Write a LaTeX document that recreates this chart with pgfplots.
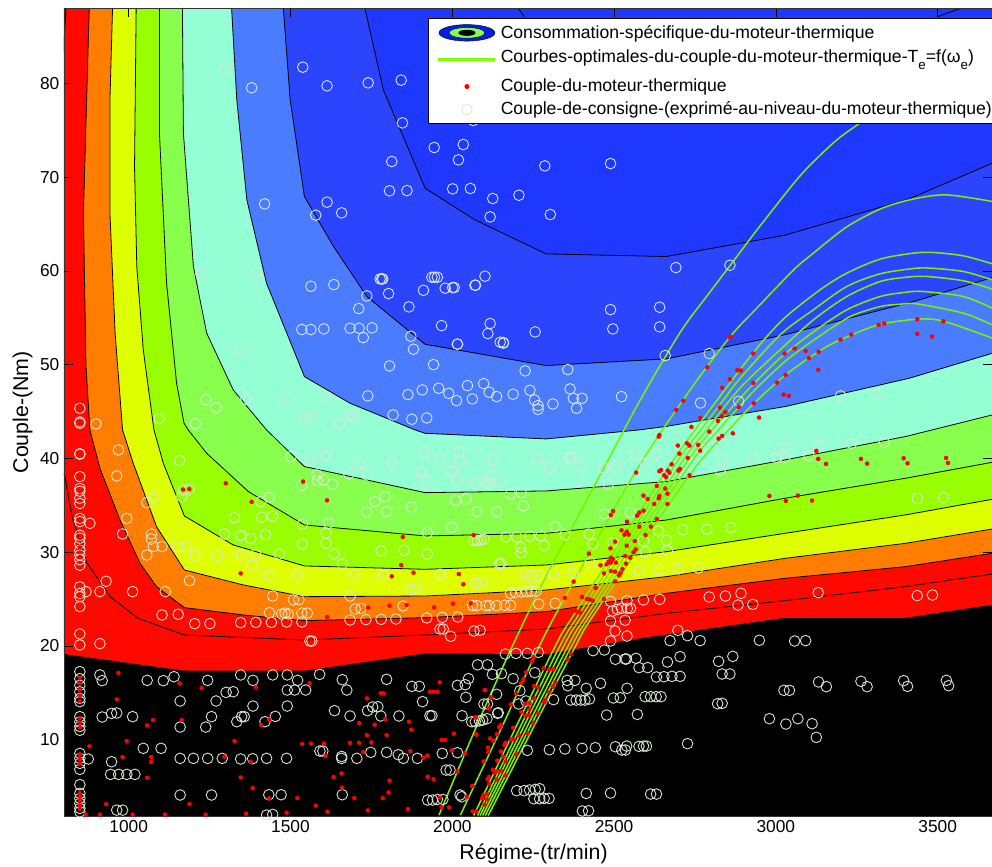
\documentclass[border=0pt]{standalone}
\usepackage{fontspec}
\setmainfont{Liberation Sans}
\usepackage{pgfplots}
\pgfplotsset{compat=1.18}
\definecolor{cred}{RGB}{255,8,0}
\definecolor{corange}{RGB}{255,125,0}
\definecolor{cyellow}{RGB}{221,255,0}
\definecolor{cgreen}{RGB}{153,255,0}
\definecolor{clgreen}{RGB}{136,255,77}
\definecolor{caqua}{RGB}{148,255,213}
\definecolor{cblue}{RGB}{74,124,255}
\definecolor{cbluetwo}{RGB}{43,69,255}
\definecolor{cbluethree}{RGB}{30,56,255}
\definecolor{cdeep}{RGB}{0,30,230}
\definecolor{clime}{RGB}{124,240,0}
\definecolor{ckey}{RGB}{128,255,0}
\definecolor{ccircle}{RGB}{218,232,214}
\begin{document}
\begin{tikzpicture}
\useasboundingbox (-48pt,-38.25pt) rectangle (696pt,612pt);
\begin{axis}[
  scale only axis, width=696pt, height=605.6pt,
  xmin=800, xmax=3668, ymin=1.85, ymax=88,
  xtick={1000,1500,2000,2500,3000,3500},
  ytick={10,20,30,40,50,60,70,80},
  /pgf/number format/assume math mode=true,
  /pgf/number format/1000 sep={},
  tick align=inside, major tick length=6.5pt,
  tick style={black, line width=0.5pt},
  axis line style={black!80, line width=0.5pt},
  axis on top,
  axis background/.style={fill=black},
  tick label style={font=\fontsize{13}{15}\selectfont},
  label style={font=\fontsize{16}{18}\selectfont},
  xlabel={Régime-(tr/min)},
  ylabel={Couple-(Nm)},
  xlabel style={at={(rel axis cs:0.506,0)},anchor=north,yshift=-17.5pt},
  ylabel style={at={(rel axis cs:0,0.5)},anchor=south,yshift=20pt},
  legend style={at={(axis cs:1925,87)},anchor=north west,draw=black,fill=white,
     font=\fontsize{13.2}{15}\selectfont,inner xsep=7.5pt,inner ysep=3.25pt,
     cells={anchor=west},row sep=2pt,line width=0.7pt,
     /tikz/column 1/.style={column sep=2pt}},
  legend cell align=left,
]
\addlegendimage{legend image code/.code={
  \fill[fill=cdeep,draw=black,line width=0.3pt] (21pt,0pt) ellipse (21pt and 6.2pt);
  \fill[fill=clgreen,draw=black,line width=0.3pt] (21pt,0pt) ellipse (13.4pt and 4pt);
  \fill[fill=black] (21pt,0pt) ellipse (6pt and 1.9pt);}}
\addlegendentry{Consommation-spécifique-du-moteur-thermique}
\addlegendimage{legend image code/.code={
  \fill[ckey] (0pt,-0.7pt) rectangle (42pt,0.7pt);}}
\addlegendentry{\raisebox{5pt}[15.6pt][0pt]{Courbes-optimales-du-couple-du-moteur-thermique-T\raisebox{-5pt}{\fontsize{10}{10}\selectfont e}=f(ω\raisebox{-5pt}{\fontsize{10}{10}\selectfont e})}}
\addlegendimage{legend image code/.code={
  \fill[red] (21pt,0pt) circle (1.5pt);}}
\addlegendentry{Couple-du-moteur-thermique}
\addlegendimage{legend image code/.code={
  \draw[draw=ccircle,line width=0.55pt] (21pt,0pt) circle (4pt);}}
\addlegendentry{Couple-de-consigne-(exprimé-au-niveau-du-moteur-thermique)}

% contour bands
\addplot[fill=cred,draw=none,forget plot] coordinates {(780,19.1)(800,19.13)(1172,17.36)(1543,17.36)(1916,19.2)(2290,19.13)(2577,20.8)(3028,23)(3400,23)(3669,24.4)(3720,25)(3720,100)(780,100)} --cycle;
\addplot[black,line width=0.6pt,forget plot] coordinates {(780,40)(803,38.06)(825,33.79)(871,28.83)(943,25.25)(1029,22.94)(1172,21.16)(1543,20.63)(1916,21.16)(2290,21.8)(2662,23.47)(3028,24.83)(3400,26.32)(3669,27.67)(3720,28)};
\addplot[black,line width=0.6pt,forget plot] coordinates {(806,88)(800,84.3)(795,82)};
\addplot[fill=corange,draw=black,line width=0.6pt,forget plot] coordinates {(878,100)(878,88.04)(860,66.16)(868,49.8)(880,43.04)(911,38.95)(973,33.44)(1035,28.81)(1086,26.32)(1172,24.08)(1354,23.3)(1543,22.69)(1916,23.01)(2290,23.65)(2662,25.61)(3028,27.21)(3400,28.45)(3669,29.88)(3720,30.2)(3720,100)} --cycle;
\addplot[fill=cyellow,draw=black,line width=0.6pt,forget plot] coordinates {(950,100)(950,88)(942,78.26)(942,66.16)(958,53.36)(981,43.04)(1014,39.48)(1086,32.72)(1172,28.1)(1354,26.5)(1543,25.25)(1916,25.32)(2290,25.96)(2662,27.39)(3028,29.34)(3400,30.94)(3669,32.47)(3720,32.8)(3720,100)} --cycle;
\addplot[fill=cgreen,draw=black,line width=0.6pt,forget plot] coordinates {(1023,100)(1023,88)(1018,71.14)(1025,60.47)(1045,51.58)(1078,43.04)(1107,39.48)(1172,33.86)(1323,30.77)(1543,28.53)(1916,28.17)(2290,28.63)(2662,30.05)(3028,32.01)(3400,33.97)(3669,35.64)(3720,36)(3720,100)} --cycle;
\addplot[fill=clgreen,draw=black,line width=0.6pt,forget plot] coordinates {(1095,100)(1095,88)(1095,74.7)(1117,58.69)(1148,48)(1171,43.75)(1184,43.04)(1241,40.55)(1370,36.46)(1543,32.9)(1916,31.73)(2290,32.01)(2662,33.43)(3028,35.75)(3400,37.88)(3669,39.59)(3720,40)(3720,100)} --cycle;
\addplot[fill=caqua,draw=black,line width=0.6pt,forget plot] coordinates {(1166,100)(1166,88)(1169,74.7)(1200,60.47)(1241,53.36)(1323,47.31)(1426,43.04)(1543,39.13)(1736,37.7)(1916,36.35)(2290,36.53)(2662,37.53)(3028,39.84)(3400,42.33)(3669,44.64)(3720,45)(3720,100)} --cycle;
\addplot[fill=cblue,draw=black,line width=0.6pt,forget plot] coordinates {(1318,100)(1318,88)(1334,78.26)(1365,67.6)(1426,58.69)(1543,48.73)(1684,45.89)(1885,43.04)(1916,42.68)(2290,42.08)(2577,43.04)(2656,43.39)(3028,45.53)(3412,48.55)(3669,51.22)(3720,51.8)(3720,100)} --cycle;
\addplot[fill=cbluetwo,draw=black,line width=0.6pt,forget plot] coordinates {(1478,100)(1478,88)(1499,78.26)(1543,67.94)(1633,62.61)(1736,57.27)(1916,52.18)(2290,49.91)(2662,50.62)(3028,53.2)(3426,56.74)(3669,59.3)(3720,59.8)(3720,100)} --cycle;
\addplot[fill=cbluethree,draw=black,line width=0.6pt,forget plot] coordinates {(1730,100)(1730,88)(1787,79.32)(1916,68.83)(2070,65.45)(2290,61.82)(2662,61.54)(3028,63.81)(3412,67.69)(3669,71.5)(3720,72.3)(3720,100)} --cycle;
\addplot[black,line width=0.6pt,forget plot] coordinates {(2205,88)(2222,87.15)};
\addplot[black,line width=0.6pt,forget plot] coordinates {(3502,87.15)(3570,88)};

% set-point circles
\addplot[only marks,mark=o,mark size=4pt,mark options={draw=ccircle,line width=0.65pt},forget plot] coordinates {
(1300,81.57)(1380,79.54)(1538,81.74)(1613,79.75)(1740,80.07)(1842,80.36)(1846,75.8)(2065,76.05)(1813,71.68)(1944,73.17)(2034,73.49)(2019,71.85)(1806,68.55)(1860,68.58)(2001,68.76)(2056,68.8)(2125,67.73)(2117,65.77)(1420,67.16)(1613,67.34)(1578,65.95)(1658,66.2)(1223,59.69)(1393,59.83)(1563,58.37)(1634,58.55)(1777,59.15)(1782,59.15)(1785,59.15)(1803,57.59)(1736,57.34)(1711,55.99)(1866,56.17)(1911,57.94)(1978,58.16)(2006,58.23)(2001,58.23)(2072,58.48)(2070,58.48)(2101,59.44)(1937,59.33)(1945,59.33)(1954,59.33)(1967,54.17)(2117,54.39)(2110,53.32)(2016,52.18)(2016,52.2)(1872,53.03)(1880,51.65)(1535,53.75)(1563,53.75)(1603,53.82)(1684,53.89)(1712,53.89)(1725,52.89)(1752,53.93)(1806,49.87)(1942,50.01)(1345,51.54)(2148,52.4)(1739,46.67)(1863,46.81)(1907,47.31)(1958,47.49)(1989,46.95)(2013,46.17)(2062,46.35)(2047,47.77)(2097,47.98)(2114,47.06)(2137,46.6)(1238,46.28)(1270,45.42)(1362,46.31)(1487,46.45)(1613,46.56)(1545,44.32)(1569,44.46)(1686,44.57)(1696,44.57)(1652,43.79)(1817,44.64)(1875,44.18)(1921,44.32)(1094,44.25)(1206,43.68)(849,45.35)(849,43.75)(849,43.9)(899,43.68)
(2286,71.21)(2489,71.46)(2206,68.08)(2303,66.02)(2691,60.36)(2858,60.61)(2489,55.88)(2641,56.13)(2496,53.82)(2641,54.03)(2256,53.5)(2158,52.36)(2158,52.3)(2658,50.97)(2794,51.19)(2357,49.48)(2225,49.34)(2523,46.6)(2401,46.42)(2374,46.42)(2364,47.42)(2311,45.81)(2188,46.85)(2240,47.27)(2254,46.24)(2265,45.63)(2265,45.24)(2384,45.35)(2767,45.92)(2885,46.1)(3200,46.67)(3318,46.88)
(849,40.5)(849,40.45)(849,38.06)(849,36.8)(849,36.5)(849,35.75)(849,35.2)(849,33.6)(849,33.26)(849,31.8)(849,31.5)(849,30.9)(849,30.2)(849,29.7)(849,29.2)(849,28.6)(849,26.3)(849,25.6)(849,25.25)(849,24.2)(849,21.27)(849,20.1)(849,17.25)(849,16.5)(849,15.8)(849,15.1)(849,14.4)(849,14.05)(849,12.45)(849,11.9)(849,11.4)(849,11)(849,8.53)(849,8)(849,7.47)(849,6.83)(849,5.2)(849,4.26)(849,3.73)(849,3.2)(849,2.66)(849,2.3)
(968,40.9)(1502,40.2)(1157,39.77)(1559,39.77)(1607,40.34)(1712,39.41)(1680,38.35)(1736,38.24)(1813,39.48)(1914,40.62)(1962,39.91)(2020,40.73)(2022,39.73)(1902,38.56)(1921,37.53)(1998,38.66)(2016,37.6)(2119,38.24)(2071,37.35)(2104,37.4)(2113,37.35)(2125,39.84)(2145,37.5)(963,38.13)(1535,37.1)(1581,38.24)(1583,37.63)(1602,37.7)(1630,37.24)(1164,35.93)(1169,36.64)(1187,36.7)(1056,35.28)(1076,35.82)(994,33.6)(981,31.94)(880,33.08)(1070,31.94)(1070,31.4)(1076,30.6)(1056,29.7)(1103,30.6)(1149,30.6)(1179,30.6)(1205,29.63)(1275,29.63)(1347,29.7)(1393,29.77)(1465,29.8)(1296,31.94)(1346,31.76)(1377,31.44)(1423,31.87)(1327,33.65)(1411,33.72)(1444,33.83)(1408,35.39)(1434,35.85)(1383,28.63)(1434,27.53)(1522,27.53)(1537,32.97)(1617,33.08)(1610,32.01)(1610,30.94)(1537,30.87)(1635,29.8)(1660,28.74)(1697,27.6)(1787,27.57)(1962,27.64)(1792,35.93)(1761,35.39)(1736,34.29)(1797,34.32)(1873,34.82)(2010,35.53)(2042,35.68)(2076,34.32)(2138,34.32)(1998,32.65)(1923,32.08)(1923,29.8)(1780,30.13)(1851,30.2)(2067,31.23)(2078,31.23)(2088,31.3)(2098,31.37)(2145,28.74)(2072,26.68)(2091,26.75)(1870,26)(1887,26.07)(1684,25.32)(1445,25.32)(1509,24.9)(1526,24.93)(1435,23.55)(1535,23.5)(1552,23.5)(1473,23.4)(1483,23.5)(1493,23.4)(1188,26.96)(1113,25.79)(1012,25.79)(911,25.79)(868,25.79)(930,26.89)(1103,23.3)(1153,23.37)(1204,22.37)(1251,22.37)(1346,22.48)(1393,22.51)(1441,22.51)(1488,22.55)(1535,22.55)(1684,22.76)(1733,22.8)(1780,22.83)(1826,22.87)(1700,23.94)(1718,24)(1848,24.26)(1921,22.98)(1969,23.05)(2017,23.08)(2063,24.3)(2076,24.3)(2104,24.3)(2115,24.3)(2137,24.3)(1560,20.52)(1566,20.52)(911,20.24)(1962,21.8)(1972,21.8)(1995,21.02)(2067,21.59)(2086,21.66)
(911,16.9)(918,16.29)(1057,16.32)(1107,16.29)(1140,16.71)(1244,16.32)(1346,16.9)(1384,16.32)(1445,16.9)(1490,16.9)(1522,16.32)(1590,16.96)(1660,16.39)(1797,16.43)(2078,17.98)(2109,17.98)(2124,16.96)(1301,15.04)(1323,15.11)(1490,15.29)(1513,15.29)(1547,15.29)(1674,15.29)(1875,15.68)(1898,15.68)(2016,15.79)(2040,15.86)(2050,16.5)(1159,14.12)(1270,14.12)(2042,14.51)(1908,14.05)(2137,14.83)(1490,13.58)(1384,13.58)(1738,13.09)(1754,13.48)(1770,13.51)(1636,13.09)(2098,13.8)(2109,13.8)(2140,12.8)(918,12.41)(947,12.8)(963,12.84)(1012,12.45)(1256,12.45)(1238,11.34)(1159,11.34)(1334,11.91)(1349,12.45)(1357,12.45)(1421,11.91)(1453,12.48)(1684,12.52)(1779,12.52)(1835,12.52)(1931,12.55)(1937,12.55)(2030,12.55)(2060,11.91)(2071,11.91)(2084,12)(2094,12.09)(2107,12.23)(1045,9.07)(1100,9.07)(875,7.93)(947,7.64)(1159,8)(1200,8)(1244,8)(1289,8)(1346,7.93)(1383,7.96)(1426,8)(1488,8)(1658,8.2)(1658,8)(1591,8.78)(1600,8.78)(1705,8)(1748,8.64)(1797,8.64)(1833,8.39)(1849,8)(1892,8)(1969,8.53)(2016,8.6)(944,6.29)(969,6.29)(994,6.29)(1019,6.29)(1981,6.75)(1993,6.75)(1159,4.09)(1256,4.09)(1433,4.12)(1471,4.12)(1660,4.12)(1924,3.55)(1939,3.55)(1954,3.62)(1971,3.62)(2024,4.09)(2029,3.9)(963,2.48)(981,2.48)(1426,1.95)(1445,2.02)
(2265,40.02)(2300,39.02)(2363,40.02)(2369,40.1)(2397,39.16)(2468,38.95)(2504,39.09)(2564,40.44)(2596,39.48)(2631,40.55)(2834,39.84)(2828,38.77)(2930,39.94)(3002,40.12)(3029,40.12)(3029,41.19)(3102,40.3)(3132,41.37)(3234,41.62)(3335,41.72)(2482,37.24)(2180,36.21)(2213,36.35)(2220,34.93)(2470,34.08)(2550,34.25)(2318,32.72)(2348,31.83)(2166,31.62)(2199,31.62)(2240,31.69)(2273,31.73)(2284,30.7)(2211,30.52)(2213,29.95)(2422,31.94)(2435,30.87)(2496,31.02)(2591,31.2)(2597,30.05)(2638,32.26)(2662,31.27)(2665,30.16)(2712,32.37)(2787,32.44)(2861,32.62)(2150,28.81)(2426,28.85)(2225,27.67)(2244,27.46)(2267,27.46)(2313,27.64)(2374,27.74)(2577,28.03)(2638,28.1)(2699,28.2)(2760,28.31)(2180,25.61)(2196,25.68)(2214,25.75)(2230,25.79)(2244,25.82)(2259,25.82)(2162,24.33)(2180,24.33)(2267,24.47)(2318,24.54)(2489,24.75)(2540,24.83)(2591,24.9)(2641,24.97)(2794,25.22)(2844,25.32)(2892,25.61)(2929,24.43)(2883,24.36)(3131,25.68)(3437,25.36)(3484,25.43)(3437,35.71)(3518,35.85)(2495,23.72)(2510,23.9)(2523,24.01)(2541,24.01)(2551,24.01)(2489,22.66)(2534,22.73)(2503,21.59)(2540,21.05)(2489,20.52)(2164,19.13)(2197,19.2)(2232,19.2)(2266,19.31)(2435,19.49)(2470,19.56)(2673,20.56)(2697,21.66)(2727,21.09)(2766,20.56)(2949,20.6)(3058,20.52)(3092,20.56)(2504,18.57)(2534,18.6)(2538,18.6)(2568,18.67)(2665,18.28)(2704,18.85)(2577,17.68)(2604,17.68)(2823,18.35)(2867,18.88)(2631,16.68)(2654,16.71)(2679,16.75)(2704,16.75)(2834,17)(2858,17)(2152,17.04)(2188,16.5)(2255,17.14)(2209,15.22)(2228,14.12)(2355,16.32)(2357,15.75)(2379,16.32)(2414,15.47)(2458,16)(2540,15.47)(3132,16.15)(3156,15.65)(3263,16.22)(3282,15.65)(3395,16.29)(3407,15.68)(3527,16.32)(3534,15.75)(3025,15.26)(3042,15.26)(2313,14.26)(2366,14.22)(2383,14.22)(2397,14.22)(2410,14.22)(2424,14.33)(2498,14.44)(2519,14.47)(2596,14.58)(2613,14.58)(2630,14.58)(2645,14.58)(2820,13.83)(2834,13.87)(2205,13.8)(2142,12.87)(2477,12.62)(2572,12.69)(2980,12.23)(3031,11.66)(3068,12.23)(3112,11.7)(3125,10.24)(2232,8.85)(2300,8.92)(2348,9)(2401,9.07)(2442,9.14)(2504,9.24)(2524,8.89)(2535,8.89)(2539,9.31)(2577,9.28)(2591,9.31)(2600,9.31)(2727,9.57)(2199,4.55)(2222,4.55)(2239,4.62)(2256,4.69)(2270,4.76)(2252,3.69)(2270,3.69)(2284,3.73)(2299,3.73)(2414,4.26)(2489,4.3)(2613,4.19)(2631,4.19)(2402,2.38)(2421,2.41)
};

% optimal torque curves
\addplot[clime,line width=1.15pt,smooth,forget plot] coordinates {(1959,1.95)(2070,11.02)(2182,19.7)(2284,27.03)(2333,30.23)(2457,38.24)(2581,46.24)(2704,53.43)(2782,57.1)(2859,60.6)(2931,63.9)(2967,65.5)(3054,69.3)(3106,71.3)(3189,74)(3270,76.02)(3479,81)};
\addplot[clime,line width=1.15pt,smooth,forget plot] coordinates {(2025,1.95)(2149,11.02)(2273,20.27)(2375,26.85)(2570,38.8)(2735,47.31)(2859,53)(2941,56.03)(3055,60.12)(3116,61.9)(3219,64.7)(3322,66.6)(3415,67.6)(3525,68.12)(3669,67.41)};
\addplot[clime,line width=1.15pt,smooth,forget plot] coordinates {(2066,1.9)(2307,19.2)(2385,23.83)(2670,39.13)(2750,43.04)(2819,46.24)(2881,49.1)(2931,51.3)(2972,53)(3034,55.2)(3137,58)(3219,59.76)(3322,61.26)(3425,61.9)(3487,61.97)(3580,61.61)(3669,60.76)};
\addplot[clime,line width=1.15pt,smooth,forget plot] coordinates {(2078,1.9)(2321,19.2)(2400,23.83)(2685,39.13)(2768,43.04)(2838,46.24)(2890,48.56)(3013,53.18)(3116,55.85)(3219,58.34)(3322,59.69)(3425,60.26)(3477,60.3)(3580,59.94)(3669,59.05)};
\addplot[clime,line width=1.15pt,smooth,forget plot] coordinates {(2086,1.9)(2333,19.2)(2412,23.83)(2700,39.13)(2786,43.04)(2858,46.24)(2910,48.25)(3013,51.58)(3116,54.78)(3219,57.27)(3322,58.87)(3405,59.34)(3467,59.41)(3580,58.95)(3669,58.06)};
\addplot[clime,line width=1.15pt,smooth,forget plot] coordinates {(2094,1.9)(2346,19.2)(2425,23.83)(2715,39.13)(2803,43.04)(2877,45.95)(2910,47.2)(3013,50.7)(3116,53.5)(3219,55.85)(3322,57.27)(3405,57.74)(3456,57.81)(3580,57.27)(3669,56.03)};
\addplot[clime,line width=1.15pt,smooth,forget plot] coordinates {(2102,1.9)(2357,19.2)(2436,23.83)(2730,39.13)(2823,43.04)(2931,47.16)(3034,50.51)(3137,53.1)(3230,55.14)(3322,56.2)(3384,56.45)(3436,56.49)(3580,55.49)(3669,54.25)};
\addplot[clime,line width=1.15pt,smooth,forget plot] coordinates {(2111,1.9)(2369,19.2)(2447,23.83)(2733,38.2)(2854,43.04)(2936,46)(3030,48.91)(3132,51.4)(3199,52.65)(3317,54.25)(3436,54.85)(3518,54.64)(3669,52.83)};

% engine torque
\addplot[red,only marks,mark=*,mark size=1.55pt,mark options={solid,fill=red,draw=red,line width=0.2pt},forget plot] coordinates {
(2860,52.97)(2858,52.9)(2930,51.19)(3027,51.19)(3058,51.72)(3092,51.47)(3132,51.37)(3102,50.69)(3131,49.45)(3200,52.68)(3233,53.22)(3318,54.25)(3335,54.39)(3437,54.85)(3518,54.64)(3437,53.29)(3483,53)(2881,49.41)(2892,49.38)(2858,48.45)(2834,47.53)(2788,49.73)(2714,46.14)(2930,48.06)(3004,48.09)(3030,48.91)(3024,46.81)(3040,46.67)(2932,45.89)(2885,45.5)(2827,45.43)(2844,44.93)(2834,44.5)(2821,44)(2766,44.32)(2739,43.36)(2948,44.36)
(2692,45.17)(2867,42.68)(2834,42.4)(2823,42.11)(2794,42.86)(2640,42.5)(2638,42.33)(2697,41.37)(2725,41.62)(2733,41.37)(2760,41.44)(2766,40.83)(2702,40.51)(2728,40.05)(2678,39.37)(2645,38.77)(2640,38.63)(2666,38.7)(2671,38.48)(2655,38.2)(2661,37.99)(2704,38.88)(2699,38.7)(2733,38.2)(2568,38.49)(2632,37.06)(2658,36.78)(2665,36.24)(2640,36)(2638,35.75)(2591,36.03)(2604,35.67)(2624,35.14)(2665,35.14)(2591,34.43)(2578,34.22)(2571,33.9)(2497,34.39)(2490,33.97)(2632,33.54)(2540,33.25)(2578,32.72)(2614,32.72)(2523,32.33)(2539,32.19)(2545,31.87)(2532,31.87)(2597,31.83)(2503,31.12)(2564,31.19)(2539,30.69)(2489,30.41)(2567,30.3)(2560,29.98)(2422,29.84)(2534,29.59)(2550,29.41)(2490,29.41)(2496,29.24)(2483,28.99)(2490,28.88)(2506,28.88)(2537,28.77)(2458,28.6)(2477,28.7)(2526,28.2)(2490,27.99)(2503,27.92)(2469,27.74)(2520,27.78)(2515,27.53)(2503,26.89)(2375,26.85)(2443,26.18)(2348,25.11)(2401,25.22)(2416,25)(2424,24.97)(2434,24.82)(2469,25)(2395,23.54)(2380,23.76)
(2251,18.78)(2246,18.32)(2366,19.17)(2358,18.53)(2228,17.18)(2220,16.47)(2213,16.07)(2282,17.6)(2300,17.5)(2313,17.5)(2318,16.11)(2311,15.68)(2300,15.04)(2253,15.72)(2266,15.58)(2197,14.94)(2100,15.29)(2119,14.51)(2287,14.23)(2284,13.98)(2225,13.8)(2238,13.87)(2253,14.4)(2181,13.76)(2238,13.27)(2213,12.94)(2266,12.8)(2225,12.55)(2238,12.62)(2112,13.34)(2073,12.38)(2250,11.77)(2151,11.59)(2146,11.27)(2188,11.27)(2138,10.6)(2232,10.67)(2206,10.45)(2074,10.53)(2189,10.03)(2181,10)(2117,10.13)(2127,9.89)(2165,9.67)(2161,9.42)(2110,9.14)(2111,8.67)(2150,8.75)(2198,8.43)(2158,8.18)(2139,7.75)(2165,7.64)(2097,7.68)(2125,6.79)(2137,6.61)(2150,6.65)(2131,6.47)(2165,6.19)(2114,6.04)(2109,5.79)(2137,5.76)(2114,5.26)(2062,5.05)(2107,4.19)(2096,4.05)(2092,3.73)(2107,3.62)(2100,3.05)(2063,2.34)(2074,2.34)
(1539,37.53)(1300,37.35)(1380,35.36)(1613,35.53)(1168,36.67)(1187,36.74)(1847,31.62)(2066,31.83)(1842,28.63)(1880,27.81)(1346,27.74)(1813,27.42)(2020,27.67)(2034,26.57)(1740,24.08)(1806,24.29)(1859,24.36)(1944,24.11)(2002,24.5)(2057,24.54)(1613,23.08)(968,17.11)(1157,16)(1225,15.5)(1393,15.61)(1559,16.04)(963,14.3)(1736,14.4)(1779,14.94)(1787,14.94)(1931,15.11)(1942,15.11)(1954,15.11)(1961,16.11)(2101,15.29)(2119,14.47)(2114,13.34)(1164,12.09)(1075,12.09)(1057,11.52)(1434,12.13)(1409,11.56)(1792,12.16)(1712,11.77)(1760,11.59)(1866,11.91)(1873,11.06)(2070,12.37)(2074,10.56)(2145,11.38)(1797,10.49)(1736,10.49)(1750,9.71)(1712,9.67)(1684,9.64)(1603,9.57)(1563,9.57)(1536,9.53)(1327,9.85)(994,9.85)(879,9.28)(1967,9.96)(1978,9.96)(2005,10.63)(1998,8.85)(2039,8.53)(1870,8.78)(1725,8.68)(981,8.14)(1069,8.14)(1069,7.61)(1296,8.18)(1377,7.64)(1609,8.25)(1923,8.29)(1911,8.07)(2016,6.58)(1658,6.4)(1633,6.01)(1924,6.04)(1942,5.76)(1806,5.62)(1057,5.94)(1346,5.97)(1383,4.83)(1659,4.87)(1803,4.37)(2062,5.05)(2045,3.91)(1434,3.73)(1521,3.77)(1697,3.77)(1785,3.77)(1962,3.8)(930,3.12)(1188,3.12)(1578,2.95)(1863,2.59)(1739,2.45)(1614,2.31)(1488,2.2)(1967,2.77)(1990,2.77)(1363,2.09)(867,2)(911,2)(1012,2)(1112,2)(1238,2)
(849,16.6)(849,16)(849,15.3)(849,14.7)(849,14.1)(849,12.3)(849,11.8)(849,11.3)(849,8.4)(849,7.9)(849,7.4)(849,4.3)(849,3.9)(849,3.5)(849,3)(849,2.6)(849,31.5)(849,30.5)(849,29.5)(849,25.5)(849,25.3)(849,33.5)(849,36.5)(849,38)(849,40.5)
(3125,40.8)(3131,39.95)(3155,39.41)(3263,39.95)(3282,39.45)(3395,40.02)(3407,39.48)(3526,40.05)(3532,39.52)(2980,36)(3031,35.46)(3068,36.03)(3112,35.5)
};
\end{axis}
\end{tikzpicture}
\end{document}
